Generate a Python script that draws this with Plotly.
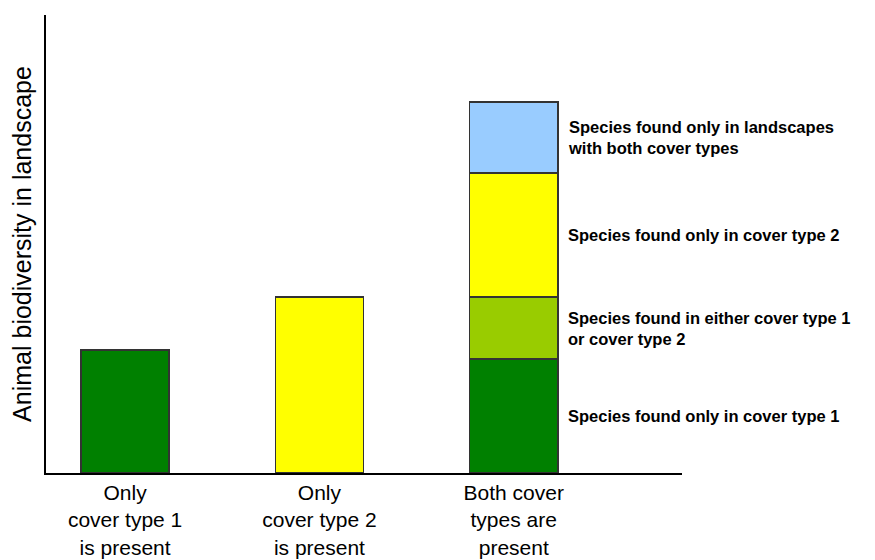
import plotly.graph_objects as go

categories = ["Only<br>cover type 1<br>is present", "Only<br>cover type 2<br>is present",
              "Both cover<br>types are<br>present"]
segment_names = ["Species found only in cover type 1",
                 "Species found in either cover type 1<br>or cover type 2",
                 "Species found only in cover type 2",
                 "Species found only in landscapes<br>with both cover types"]
segment_colors = ["#008000", "#99CC00", "#FFFF00", "#99CCFF"]
# heights per segment for each category (cover1 only, cover2 only, both)
seg_values = [
    [123, None, 114],
    [None, None, 62],
    [None, 176, 124],
    [None, None, 71],
]

fig = go.Figure()
for name, color, vals in zip(segment_names, segment_colors, seg_values):
    fig.add_trace(go.Bar(
        x=[0, 1, 2], y=vals, name=name, width=0.454,
        marker=dict(color=color, line=dict(color="#333333", width=1.5)),
        showlegend=False))

# labels beside the stacked bar
base = 0
for name, vals in zip(segment_names, seg_values):
    v = vals[2]
    fig.add_annotation(x=2.27, y=base + v / 2, text="<b>" + name + "</b>",
                       xref="x", yref="y", xanchor="left", yanchor="middle",
                       align="left", showarrow=False,
                       font=dict(family="Arial", size=16.5, color="black"))
    base += v

fig.update_layout(
    barmode="stack",
    width=860, height=552,
    margin=dict(l=38, r=186, t=7, b=87),
    plot_bgcolor="white", paper_bgcolor="white",
    font=dict(family="Arial", color="black"),
    xaxis=dict(range=[-0.407, 2.866], tickvals=[0, 1, 2], ticktext=categories,
               showline=True, linecolor="black", linewidth=1.5, ticks="",
               tickfont=dict(size=21), showgrid=False, automargin=False),
    yaxis=dict(range=[0, 458], showticklabels=False, showline=True,
               linecolor="black", linewidth=1.5, showgrid=False, zeroline=False,
               automargin=False,
               title=dict(text="Animal biodiversity in landscape",
                          font=dict(size=25), standoff=6)),
)

fig.write_html("out.html")
